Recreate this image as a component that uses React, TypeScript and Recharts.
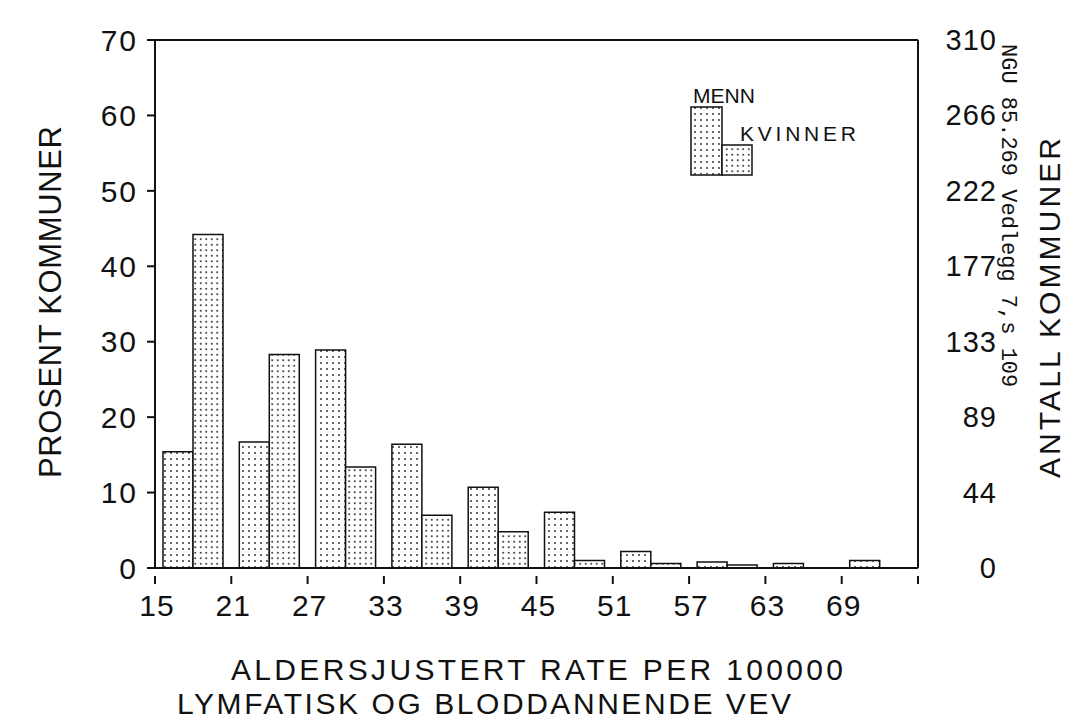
import React from 'react';
import { BarChart, Bar, XAxis, YAxis, ReferenceLine, Legend, Label } from 'recharts';

const categories = ['15', '21', '27', '33', '39', '45', '51', '57', '63', '69'];
const menn = [15.4, 16.7, 28.9, 16.4, 10.7, 7.4, 2.2, 0.8, 0.6, 1.0];
const kvinner = [44.2, 28.3, 13.4, 7.0, 4.8, 1.0, 0.6, 0.4, 0, 0];
const leftTicks = [0, 10, 20, 30, 40, 50, 60, 70];
const rightTickLabels = ['0', '44', '89', '133', '177', '222', '266', '310'];

const data = categories.map((c, i) => ({ cat: c, menn: menn[i], kvinner: kvinner[i] }));

const FONT = "'Liberation Sans', 'Open Sans', sans-serif";
const INK = '#111';
const PLOT_W = 763;

const Patterns = ({ prefix }: { prefix: string }) => (
  <defs>
    <pattern id={`${prefix}M`} width={6} height={6} patternUnits="userSpaceOnUse">
      <rect width={6} height={6} fill="#fff" />
      <circle cx={3} cy={3} r={0.9} fill="#222" />
    </pattern>
    <pattern id={`${prefix}K`} width={5.5} height={5.5} patternUnits="userSpaceOnUse">
      <rect width={5.5} height={5.5} fill="#fff" />
      <circle cx={2.75} cy={2.75} r={1.0} fill="#222" />
    </pattern>
  </defs>
);

const renderLegend = (props: any) => {
  const payload = props.payload || [];
  const find = (k: string, fb: string) => {
    const e = payload.find((p: any) => p.dataKey === k);
    return e ? e.value : fb;
  };
  return (
    <svg width={200} height={120} style={{ display: 'block' }}>
      <Patterns prefix="lg" />
      <text x={13} y={28} fontFamily={FONT} fontSize={21} fill={INK}>{find('menn', 'MENN')}</text>
      <rect x={11} y={32} width={31} height={68} fill="url(#lgM)" stroke={INK} strokeWidth={1.5} />
      <rect x={42} y={70} width={30} height={30} fill="url(#lgK)" stroke={INK} strokeWidth={1.5} />
      <text x={60} y={66} fontFamily={FONT} fontSize={21} textLength={116} lengthAdjust="spacing" fill={INK}>{find('kvinner', 'KVINNER')}</text>
    </svg>
  );
};

const XTick = (props: any) => {
  const { x, y, payload, index } = props;
  const half = payload && payload.offset ? payload.offset : PLOT_W / categories.length / 2;
  const lx = x - half;
  const isLast = index === categories.length - 1 || (payload && payload.value === categories[categories.length - 1]);
  return (
    <g>
      <line x1={lx} y1={y} x2={lx} y2={y + 8} stroke={INK} strokeWidth={2} />
      {isLast ? <line x1={x + half} y1={y} x2={x + half} y2={y + 8} stroke={INK} strokeWidth={2} /> : null}
      <text x={lx + 2} y={y + 19} dy="0.71em" textAnchor="middle" fontFamily={FONT} fontSize={30} letterSpacing={1} fill={INK}>
        {payload.value}
      </text>
    </g>
  );
};

const RightTick = (props: any) => {
  const { x, y, payload } = props;
  const i = leftTicks.indexOf(Number(payload.value));
  return (
    <text x={x + 79} y={y} dy={10} textAnchor="end" fontFamily={FONT} fontSize={29} letterSpacing={1} fill={INK}>
      {i >= 0 ? rightTickLabels[i] : ''}
    </text>
  );
};

const LeftTitle = (props: any) => {
  const vb = props.viewBox;
  const x = vb.x - 14;
  const y = vb.y + 262;
  return (
    <text x={x} y={y} transform={`rotate(-90, ${x}, ${y})`} textAnchor="middle" textLength={352} lengthAdjust="spacing" fontFamily={FONT} fontSize={31} fill={INK}>
      PROSENT KOMMUNER
    </text>
  );
};

const RightTitle = (props: any) => {
  const vb = props.viewBox;
  const mx = vb.x + 84;
  const my = vb.y + 4;
  const ax = vb.x + 142;
  const ay = vb.y + 268;
  return (
    <g>
      <text x={mx} y={my} transform={`rotate(90, ${mx}, ${my})`} textAnchor="start" fontFamily="'Liberation Mono', 'DejaVu Sans Mono', monospace" fontSize={22} fill={INK}>
        NGU 85.269 Vedlegg 7,s 109
      </text>
      <text x={ax} y={ay} transform={`rotate(-90, ${ax}, ${ay})`} textAnchor="middle" textLength={340} lengthAdjust="spacing" fontFamily={FONT} fontSize={30} fill={INK}>
        ANTALL KOMMUNER
      </text>
    </g>
  );
};

const XTitle = (props: any) => {
  const vb = props.viewBox;
  return (
    <g fontFamily={FONT} fontSize={30} fill={INK}>
      <text x={vb.x + 76} y={vb.y + 112} textLength={612} lengthAdjust="spacing">ALDERSJUSTERT RATE PER 100000</text>
      <text x={vb.x + 22} y={vb.y + 146} textLength={614} lengthAdjust="spacing">LYMFATISK OG BLODDANNENDE VEV</text>
    </g>
  );
};

export default function App() {
  return (
    <div style={{ position: 'absolute', left: 0, top: 0, width: 1077, height: 723, background: '#fff' }}>
      <BarChart
        width={1077}
        height={723}
        data={data}
        margin={{ top: 40, right: 79, left: 75, bottom: 125 }}
        barCategoryGap={8}
        barGap={0}
      >
        <Patterns prefix="bar" />
        <XAxis
          dataKey="cat"
          height={30}
          interval={0}
          tickLine={false}
          axisLine={{ stroke: INK, strokeWidth: 2 }}
          tick={<XTick />}
        >
          <Label content={<XTitle />} />
        </XAxis>
        <YAxis
          yAxisId="left"
          domain={[0, 70]}
          allowDataOverflow
          ticks={leftTicks}
          width={80}
          tickSize={8}
          tickMargin={9}
          axisLine={{ stroke: INK, strokeWidth: 2 }}
          tickLine={{ stroke: INK, strokeWidth: 2 }}
          tick={{ fill: INK, fontFamily: FONT, fontSize: 30, letterSpacing: 2 }}
        >
          <Label content={<LeftTitle />} />
        </YAxis>
        <YAxis
          yAxisId="right"
          orientation="right"
          domain={[0, 70]}
          allowDataOverflow
          ticks={leftTicks}
          width={80}
          tickSize={0}
          tickMargin={0}
          tickLine={false}
          axisLine={{ stroke: INK, strokeWidth: 2 }}
          tick={<RightTick />}
        >
          <Label content={<RightTitle />} />
        </YAxis>
        <ReferenceLine yAxisId="left" y={70} stroke={INK} strokeWidth={2} />
        <Legend
          content={renderLegend}
          layout="vertical"
          align="center"
          verticalAlign="middle"
          wrapperStyle={{ position: 'absolute', left: 680, top: 75, width: 200, height: 120 }}
        />
        <Bar yAxisId="left" dataKey="menn" name="MENN" fill="url(#barM)" stroke={INK} strokeWidth={1.5} isAnimationActive={false} />
        <Bar yAxisId="right" dataKey="kvinner" name="KVINNER" fill="url(#barK)" stroke={INK} strokeWidth={1.5} isAnimationActive={false} />
      </BarChart>
    </div>
  );
}
